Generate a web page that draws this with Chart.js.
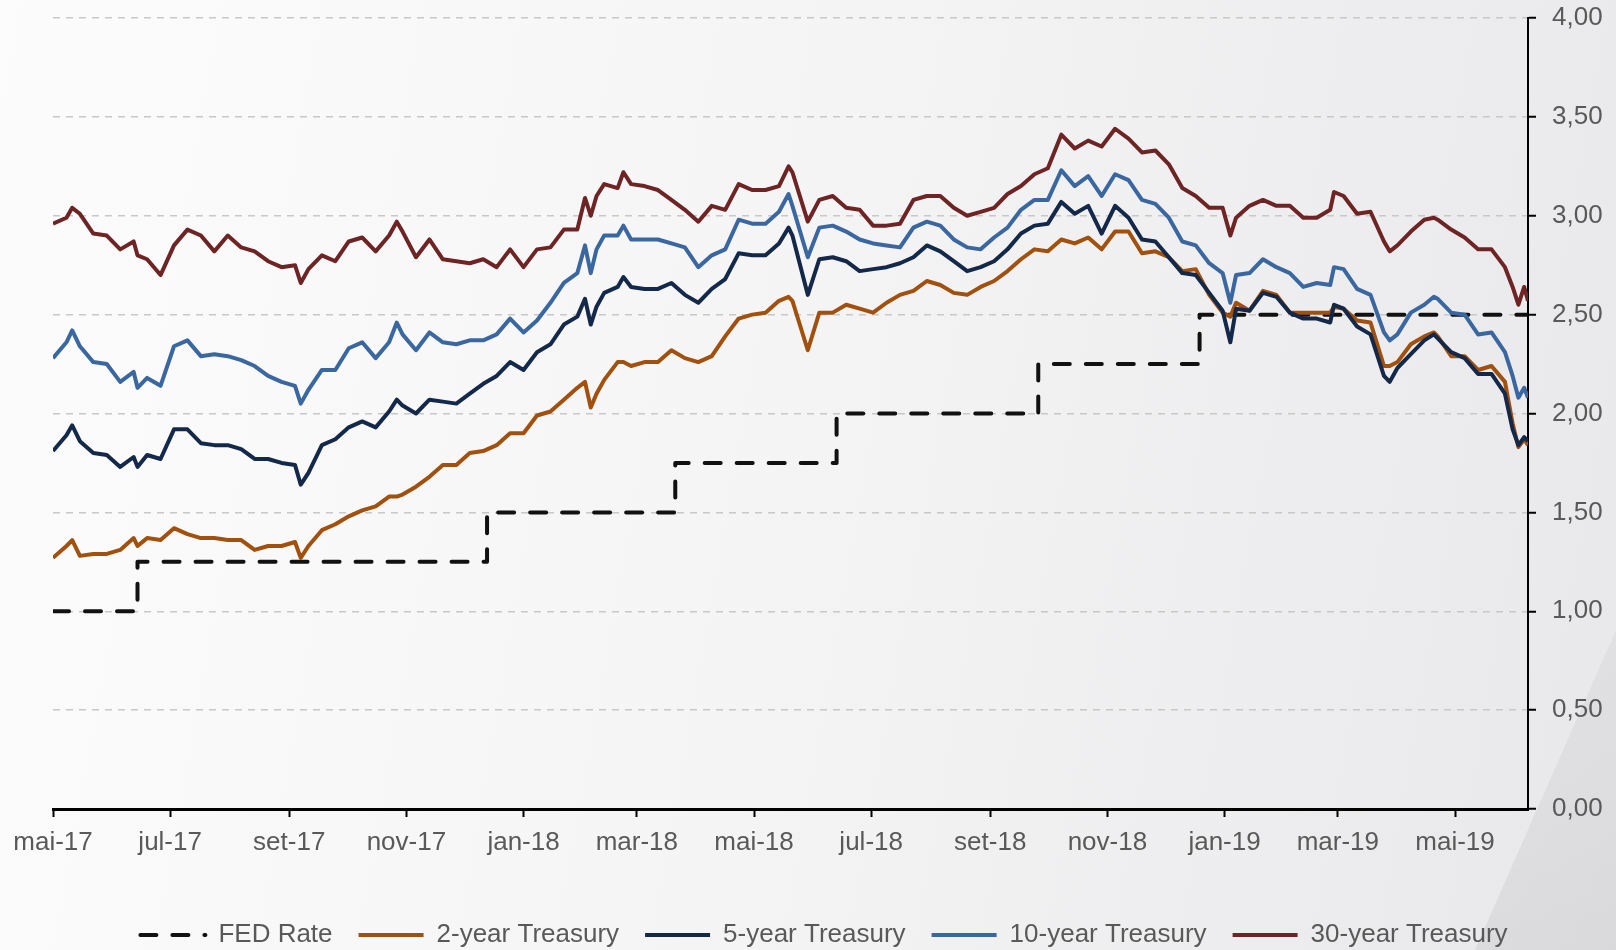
<!DOCTYPE html>
<html>
<head>
<meta charset="utf-8">
<script src="https://cdn.jsdelivr.net/npm/chart.js@4.4.0/dist/chart.umd.min.js"></script>
<style>
  html, body { margin: 0; padding: 0; }
  body {
    width: 1616px; height: 950px; overflow: hidden; position: relative;
    background: linear-gradient(100deg, #fcfcfc 0%, #f5f5f6 45%, #e8e8ea 100%);
  }
  .wedge {
    position: absolute; left: 0; top: 0; width: 1616px; height: 950px;
    background: linear-gradient(160deg, rgba(255,255,255,0) 55%, rgba(200,200,204,0.45) 100%);
    clip-path: polygon(1616px 630px, 1616px 950px, 1475px 950px);
  }
  #wrap { position: absolute; left: 0; top: 0; width: 1616px; height: 950px; }
</style>
</head>
<body>
<div class="wedge"></div>
<div id="wrap"><canvas id="chart" width="1616" height="950"></canvas></div>
<script>
// days counted from 1 May 2017
var days = [
	0, 7, 10, 14, 21, 28, 35, 42, 44, 49,
	56, 63, 70, 77, 84, 91, 98, 105, 112, 119,
	126, 129, 133, 140, 147, 154, 161, 168, 175, 179,
	182, 189, 196, 203, 210, 217, 224, 231, 238, 245,
	252, 259, 266, 273, 277, 280, 283, 287, 294, 297,
	301, 308, 315, 322, 329, 336, 343, 350, 357, 364,
	371, 378, 383, 385, 393, 399, 406, 413, 420, 427,
	434, 441, 448, 455, 462, 469, 476, 483, 490, 497,
	504, 511, 518, 525, 532, 539, 546, 553, 560, 567,
	574, 581, 588, 595, 602, 609, 613, 616, 623, 630,
	637, 644, 651, 658, 665, 667, 672, 679, 686, 693,
	696, 700, 707, 714, 719, 721, 728, 735, 742, 749,
	756, 760, 763, 766, 768
];

var twoYear = [
	1.27, 1.33, 1.36, 1.28, 1.29, 1.29, 1.31, 1.37, 1.33, 1.37,
	1.36, 1.42, 1.39, 1.37, 1.37, 1.36, 1.36, 1.31, 1.33, 1.33,
	1.35, 1.27, 1.33, 1.41, 1.44, 1.48, 1.51, 1.53, 1.58, 1.58,
	1.59, 1.63, 1.68, 1.74, 1.74, 1.80, 1.81, 1.84, 1.90, 1.90,
	1.99, 2.01, 2.07, 2.13, 2.16, 2.03, 2.10, 2.17, 2.26, 2.26,
	2.24, 2.26, 2.26, 2.32, 2.28, 2.26, 2.29, 2.39, 2.48, 2.50,
	2.51, 2.57, 2.59, 2.57, 2.32, 2.51, 2.51, 2.55, 2.53, 2.51,
	2.56, 2.60, 2.62, 2.67, 2.65, 2.61, 2.60, 2.64, 2.67, 2.72,
	2.78, 2.83, 2.82, 2.88, 2.86, 2.89, 2.83, 2.92, 2.92, 2.81,
	2.82, 2.79, 2.72, 2.73, 2.60, 2.51, 2.49, 2.56, 2.52, 2.62,
	2.60, 2.51, 2.51, 2.51, 2.51, 2.54, 2.53, 2.47, 2.46, 2.24,
	2.24, 2.26, 2.35, 2.39, 2.41, 2.39, 2.29, 2.29, 2.22, 2.24,
	2.16, 1.95, 1.83, 1.87, 1.84
];

var fiveYear = [
	1.81, 1.89, 1.94, 1.86, 1.80, 1.79, 1.73, 1.78, 1.73, 1.79,
	1.77, 1.92, 1.92, 1.85, 1.84, 1.84, 1.82, 1.77, 1.77, 1.75,
	1.74, 1.64, 1.70, 1.84, 1.87, 1.93, 1.96, 1.93, 2.01, 2.07,
	2.04, 2.00, 2.07, 2.06, 2.05, 2.10, 2.15, 2.19, 2.26, 2.22,
	2.31, 2.35, 2.45, 2.49, 2.58, 2.45, 2.54, 2.61, 2.64, 2.69,
	2.64, 2.63, 2.63, 2.66, 2.60, 2.56, 2.63, 2.68, 2.81, 2.80,
	2.80, 2.86, 2.94, 2.90, 2.60, 2.78, 2.79, 2.77, 2.72, 2.73,
	2.74, 2.76, 2.79, 2.85, 2.82, 2.77, 2.72, 2.74, 2.77, 2.83,
	2.91, 2.95, 2.96, 3.07, 3.01, 3.05, 2.91, 3.05, 2.99, 2.88,
	2.87, 2.79, 2.71, 2.70, 2.61, 2.52, 2.36, 2.53, 2.52, 2.61,
	2.59, 2.51, 2.48, 2.48, 2.46, 2.55, 2.53, 2.44, 2.40, 2.19,
	2.16, 2.23, 2.30, 2.37, 2.40, 2.38, 2.31, 2.28, 2.20, 2.20,
	2.10, 1.92, 1.84, 1.88, 1.86
];

var tenYear = [
	2.28, 2.36, 2.42, 2.34, 2.26, 2.25, 2.16, 2.21, 2.13, 2.18,
	2.14, 2.34, 2.37, 2.29, 2.30, 2.29, 2.27, 2.24, 2.19, 2.16,
	2.14, 2.05, 2.12, 2.22, 2.22, 2.33, 2.36, 2.28, 2.36, 2.46,
	2.40, 2.32, 2.41, 2.36, 2.35, 2.37, 2.37, 2.40, 2.48, 2.41,
	2.47, 2.56, 2.66, 2.71, 2.85, 2.71, 2.83, 2.90, 2.90, 2.95,
	2.88, 2.88, 2.88, 2.86, 2.84, 2.74, 2.80, 2.83, 2.98, 2.96,
	2.96, 3.02, 3.11, 3.05, 2.79, 2.94, 2.95, 2.92, 2.88, 2.86,
	2.85, 2.84, 2.94, 2.97, 2.95, 2.88, 2.84, 2.83, 2.89, 2.94,
	3.03, 3.08, 3.08, 3.23, 3.15, 3.20, 3.10, 3.21, 3.18, 3.08,
	3.06, 2.99, 2.87, 2.85, 2.76, 2.71, 2.56, 2.70, 2.71, 2.78,
	2.74, 2.71, 2.64, 2.66, 2.65, 2.74, 2.73, 2.63, 2.60, 2.41,
	2.37, 2.40, 2.51, 2.55, 2.59, 2.58, 2.51, 2.50, 2.40, 2.41,
	2.31, 2.19, 2.08, 2.13, 2.08
];

var thirtyYear = [
	2.96, 2.99, 3.04, 3.01, 2.91, 2.90, 2.83, 2.87, 2.80, 2.78,
	2.70, 2.85, 2.93, 2.90, 2.82, 2.90, 2.84, 2.82, 2.77, 2.74,
	2.75, 2.66, 2.73, 2.80, 2.77, 2.87, 2.89, 2.82, 2.90, 2.97,
	2.92, 2.79, 2.88, 2.78, 2.77, 2.76, 2.78, 2.74, 2.83, 2.74,
	2.83, 2.84, 2.93, 2.93, 3.09, 3.00, 3.10, 3.16, 3.14, 3.22,
	3.16, 3.15, 3.13, 3.08, 3.03, 2.97, 3.05, 3.03, 3.16, 3.13,
	3.13, 3.15, 3.25, 3.22, 2.97, 3.08, 3.10, 3.04, 3.03, 2.95,
	2.95, 2.96, 3.08, 3.10, 3.10, 3.04, 3.00, 3.02, 3.04, 3.11,
	3.15, 3.21, 3.24, 3.41, 3.34, 3.38, 3.35, 3.44, 3.39, 3.32,
	3.33, 3.26, 3.14, 3.10, 3.04, 3.04, 2.90, 2.99, 3.05, 3.08,
	3.05, 3.05, 2.99, 2.99, 3.03, 3.12, 3.10, 3.01, 3.02, 2.87,
	2.82, 2.85, 2.92, 2.98, 2.99, 2.98, 2.93, 2.89, 2.83, 2.83,
	2.74, 2.64, 2.55, 2.64, 2.57
];

// FED funds target (upper bound), day it took effect
var fedDays = [0, 44, 226, 324, 408, 513, 597, 768];
var fedRate = [1.00, 1.25, 1.50, 1.75, 2.00, 2.25, 2.50, 2.50];

var tickDays = [0, 61, 123, 184, 245, 304, 365, 426, 488, 549, 610, 669, 730];
var tickLabels = ['mai-17', 'jul-17', 'set-17', 'nov-17', 'jan-18', 'mar-18', 'mai-18',
	'jul-18', 'set-18', 'nov-18', 'jan-19', 'mar-19', 'mai-19'];

var xAxisHeight = 87;
var legendBoxHeight = 54;

var toPoints = function (xs, ys) {
	return xs.map(function (x, i) { return { x: x, y: ys[i] }; });
};

// fixed legend height, and nudge the legend row a bit to the left
var legendHeight = {
	id: 'legendHeight',
	beforeInit: function (chart) {
		var fit = chart.legend.fit;
		chart.legend.fit = function () {
			fit.call(this);
			this.height = legendBoxHeight;
		};
	},
	afterLayout: function (chart) {
		chart.legend.left -= 21;
	}
};

var font = { family: "'Liberation Sans', Arial, sans-serif", size: 26 };
var ctx = document.getElementById('chart').getContext('2d');
var chart = new Chart(ctx, {
	type: 'line',
	data: {
		datasets: [{
			label: 'FED Rate',
			data: toPoints(fedDays, fedRate),
			stepped: true,
			borderColor: '#111111',
			borderWidth: 4,
			borderDash: [16, 16],
			borderCapStyle: 'round',
			order: 5
		}, {
			label: '2-year Treasury',
			data: toPoints(days, twoYear),
			borderColor: '#A1500E',
			borderWidth: 4,
			order: 4
		}, {
			label: '5-year Treasury',
			data: toPoints(days, fiveYear),
			borderColor: '#14284A',
			borderWidth: 4,
			order: 3
		}, {
			label: '10-year Treasury',
			data: toPoints(days, tenYear),
			borderColor: '#3A67A0',
			borderWidth: 4,
			order: 2
		}, {
			label: '30-year Treasury',
			data: toPoints(days, thirtyYear),
			borderColor: '#6E2424',
			borderWidth: 4,
			order: 1
		}]
	},
	options: {
		responsive: false,
		animation: false,
		devicePixelRatio: 1,
		layout: { padding: { left: 53, top: 18, right: 0, bottom: 0 } },
		elements: {
			point: { radius: 0 },
			line: { tension: 0, fill: false, borderJoinStyle: 'round' }
		},
		scales: {
			x: {
				type: 'linear',
				min: 0,
				max: 768,
				afterBuildTicks: function (scale) {
					scale.ticks = tickDays.map(function (d) { return { value: d }; });
				},
				afterFit: function (scale) { scale.height = xAxisHeight; },
				grid: { drawOnChartArea: false, drawTicks: true, tickLength: 8, tickColor: '#000', tickWidth: 2 },
				border: { color: '#000', width: 3 },
				ticks: {
					autoSkip: false,
					maxRotation: 0,
					padding: 10,
					color: '#595959',
					font: font,
					callback: function (v) {
						var i = tickDays.indexOf(v);
						return i >= 0 ? tickLabels[i] : '';
					}
				}
			},
			y: {
				position: 'right',
				min: 0,
				max: 4,
				afterFit: function (scale) {
					scale.width = 88;
					scale.paddingTop = 0;
					scale.paddingBottom = 0;
				},
				grid: { color: '#c8c8c8', lineWidth: 1.5, tickLength: 8, tickColor: '#000', tickWidth: 2 },
				border: { color: '#000', width: 2, dash: [7, 6] },
				ticks: {
					stepSize: 0.5,
					padding: 16,
					color: '#595959',
					font: font,
					callback: function (v) { return v.toFixed(2).replace('.', ','); }
				}
			}
		},
		plugins: {
			legend: {
				position: 'bottom',
				labels: {
					usePointStyle: true,
					pointStyle: 'line',
					pointStyleWidth: 65,
					padding: 26,
					color: '#595959',
					font: { family: font.family, size: 26, lineHeight: 1 },
					sort: function (a, b) { return a.datasetIndex - b.datasetIndex; },
					generateLabels: function (chart) {
						var items = Chart.defaults.plugins.legend.labels.generateLabels(chart);
						items.forEach(function (item) {
							var ds = chart.data.datasets[item.datasetIndex];
							item.lineWidth = ds.borderWidth;
							item.lineDash = ds.borderDash || [];
							item.lineDashOffset = 0;
							item.lineCap = ds.borderCapStyle || 'butt';
						});
						return items;
					}
				}
			},
			tooltip: { enabled: false }
		}
	},
	plugins: [legendHeight]
});
</script>
</body>
</html>
